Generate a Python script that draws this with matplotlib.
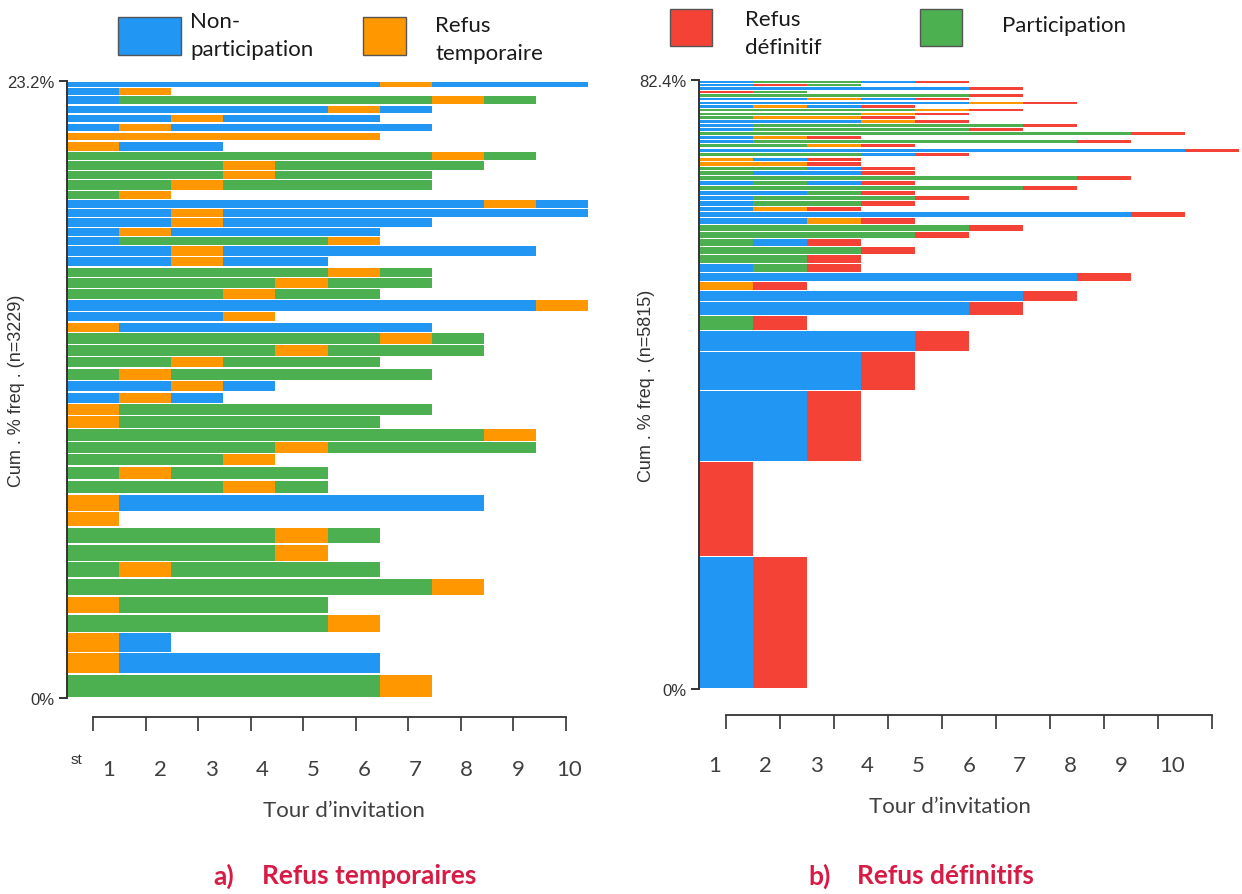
import itertools

import matplotlib

matplotlib.use("Agg")
import matplotlib.pyplot as plt
from matplotlib.patches import Rectangle
import numpy as np

W, H = 1242, 895

STATE_COLORS = {"N": "#2196F3", "T": "#FF9800", "D": "#F44336", "P": "#4CAF50"}
STATE_LABELS = {
    "N": "Non-\nparticipation",
    "T": "Refus\ntemporaire",
    "D": "Refus\ndéfinitif",
    "P": "Participation",
}

# N = non-participation, T = refus temporaire, D = refus définitif, P = participation
# sequences listed most frequent first (drawn from the bottom up)
temp_sequences = [
    "PPPPPPT", "TNNNNN", "TN", "PPPPPT", "TPPPP", "PPPPPPPT", "PTPPPP",
    "PPPPT", "PPPPTP", "T", "TNNNNNNN", "PPPTP", "PTPPP", "PPPT",
    "PPPPTPPPP", "PPPPPPPPT", "TPPPPP", "TPPPPPP", "NTN", "NNTN",
    "PTPPPPP", "PPTPPP", "PPPPTPPP", "PPPPPPTP", "TNNNNNN", "NNNT",
    "NNNNNNNNNT", "PPPTPP", "PPPPTPP", "PPPPPTP", "NNTNN", "NNTNNNNNN",
    "NPPPPT", "NTNNNN", "NNTNNNN", "NNTNNNNNNN", "NNNNNNNNTN", "PT",
    "PPTPPPP", "PPPTPPP", "PPPTPPPP", "PPPPPPPTP", "TNN", "TTTTTT",
    "NTNNNNN", "NNTNNN", "NNNNNTN", "NPPPPPPTP", "NT", "NNNNNNTNNN",
]
temp_counts = [
    29, 26, 25, 22, 22, 22, 20, 21, 21, 19, 21, 17, 17, 15, 15, 16, 15,
    15, 14, 14, 15, 14, 15, 14, 13, 13, 14, 14, 13, 13, 13, 13, 11, 11,
    12, 11, 11, 11, 13, 11, 12, 11, 13, 11, 11, 11, 11, 11, 10, 8,
]
TEMP_N = 3229

def_sequences = [
    "ND", "D", "NND", "NNND", "NNNND", "PD", "NNNNND", "NNNNNND", "TD",
    "NNNNNNND", "NPD", "PPD", "PPPD", "PND", "PPPPD", "PPPPPD", "NNTD",
    "NNNNNNNND", "NTD", "NPPD", "NPPPD", "NNPD", "PPPPPPD", "NPND",
    "PPPPPPPD", "PNND", "PPND", "TTD", "TND", "PPPND", "NNNNNNNNND",
    "PPTD", "NPPPPPPD", "NTD", "PPPPPPPPD", "NPPPPD", "NPPPPPD", "NNNTD",
    "PTTD", "PPPTD", "PPPPTD", "NTND", "NNNNNTD", "NNTND", "PPPPPD",
    "DP", "NNNNND", "NDP", "NPPND",
]
def_counts = [
    1045, 743, 560, 306, 169, 118, 110, 84, 73, 70, 70, 68, 66, 63, 57,
    56, 49, 48, 45, 44, 40, 40, 40, 39, 37, 37, 37, 36, 36, 36, 35, 34,
    33, 32, 32, 31, 31, 30, 30, 30, 29, 29, 29, 28, 28, 28, 27, 27, 27,
]
DEF_N = 5815

tours = list(range(1, 11))

NARROW = ["Liberation Sans Narrow", "Liberation Sans", "DejaVu Sans"]
BODY = ["Lato", "DejaVu Sans"]
AXIS_GREY = "#333333"
TEXT_GREY = "#404040"
CAPTION_RED = "#D81B45"


def fig_rect(x0, y0, x1, y1):
    """Pixel box (top-left origin) to a figure-fraction rect."""
    return [x0 / W, 1 - y1 / H, (x1 - x0) / W, (y1 - y0) / H]


def sequence_panel(ax, sequences, counts, n_total, gap, ylabel):
    pct = np.asarray(counts) / n_total * 100
    bottoms = np.concatenate([[0.0], np.cumsum(pct)[:-1]])
    for seq, base, height in zip(sequences, bottoms, pct):
        pos = 0
        for state, run in itertools.groupby(seq):
            width = len(list(run))
            ax.barh(base + gap / 2, width, height=height - gap, left=pos,
                    align="edge", color=STATE_COLORS[state], linewidth=0)
            pos += width
    top = pct.sum()
    ax.set_xlim(0, len(tours))
    ax.set_ylim(0, top)
    for side in ("top", "right", "bottom"):
        ax.spines[side].set_visible(False)
    ax.spines["left"].set_color(AXIS_GREY)
    ax.spines["left"].set_linewidth(1.4)
    ax.set_xticks([])
    ax.set_yticks([0, top])
    ax.set_yticklabels(["0%", f"{top:.1f}%"], family=NARROW, fontsize=12,
                       color=AXIS_GREY)
    ax.tick_params(axis="y", length=6, width=1.4, color=AXIS_GREY, pad=3)
    ax.set_ylabel(ylabel, family=["Liberation Sans", "DejaVu Sans"],
                  fontsize=13, color=AXIS_GREY)
    ax.yaxis.set_label_coords(-0.081, 0.5)


def tour_axis(fig, tick_x0, tick_x1, line_y, lab_x0, lab_x1, lab_y):
    line_ax = fig.add_axes(fig_rect(tick_x0, line_y - 1, tick_x1, line_y))
    line_ax.set_xlim(tours[0], tours[-1])
    for side in ("top", "right", "left"):
        line_ax.spines[side].set_visible(False)
    line_ax.spines["bottom"].set_color(AXIS_GREY)
    line_ax.spines["bottom"].set_linewidth(1.3)
    line_ax.set_yticks([])
    line_ax.set_xticks(tours)
    line_ax.set_xticklabels([])
    line_ax.tick_params(axis="x", direction="out", length=10, width=1.2,
                        color=AXIS_GREY)
    line_ax.patch.set_visible(False)

    lab_ax = fig.add_axes(fig_rect(lab_x0, lab_y - 1, lab_x1, lab_y))
    lab_ax.set_xlim(tours[0], tours[-1])
    lab_ax.axis("off")
    for t in tours:
        lab_ax.text(t, 0, str(t), transform=lab_ax.get_xaxis_transform(),
                    ha="center", va="top", family=BODY, fontsize=16,
                    color=TEXT_GREY)


def legend_entry(fig, state, box, text_x, text_y):
    x0, y0, x1, y1 = box
    r = fig_rect(x0, y0, x1, y1)
    fig.add_artist(Rectangle((r[0], r[1]), r[2], r[3], transform=fig.transFigure,
                             facecolor=STATE_COLORS[state], edgecolor="#555555",
                             linewidth=1.0))
    fig.text(text_x / W, 1 - text_y / H, STATE_LABELS[state], ha="left",
             va="center", family=BODY, fontsize=16, color="#1a1a1a",
             linespacing=1.45)


fig = plt.figure(figsize=(W / 100, H / 100), dpi=100)

ax_a = fig.add_axes(fig_rect(67, 82, 588, 699))
sequence_panel(ax_a, temp_sequences, temp_counts, TEMP_N, 0.05,
               f"Cum . % freq . (n={TEMP_N})")

ax_b = fig.add_axes(fig_rect(698.7, 81, 1238.7, 690))
sequence_panel(ax_b, def_sequences, def_counts, DEF_N, 0.15,
               f"Cum . % freq . (n={DEF_N})")

tour_axis(fig, 93.4, 565.6, 718, 109, 569, 760)
tour_axis(fig, 726, 1212, 716, 715, 1172, 756)

fig.text(76 / W, 1 - 760 / H, "st", ha="center", va="center", family=NARROW,
         fontsize=11, color=AXIS_GREY)

fig.text(344 / W, 1 - 811 / H, "Tour d’invitation", ha="center", va="center",
         family=BODY, fontsize=16, color=TEXT_GREY)
fig.text(950 / W, 1 - 807 / H, "Tour d’invitation", ha="center", va="center",
         family=BODY, fontsize=16, color=TEXT_GREY)

fig.text(213 / W, 1 - 876 / H, "a)", ha="left", va="center", family=BODY,
         fontsize=19, fontweight="bold", color=CAPTION_RED)
fig.text(262 / W, 1 - 876 / H, "Refus temporaires", ha="left", va="center",
         family=BODY, fontsize=19, fontweight="bold", color=CAPTION_RED)
fig.text(808 / W, 1 - 876 / H, "b)", ha="left", va="center", family=BODY,
         fontsize=19, fontweight="bold", color=CAPTION_RED)
fig.text(857 / W, 1 - 876 / H, "Refus définitifs", ha="left", va="center",
         family=BODY, fontsize=19, fontweight="bold", color=CAPTION_RED)

legend_entry(fig, "N", (118, 18, 181, 56), 190, 36)
legend_entry(fig, "T", (363, 18, 406, 56), 435, 40)
legend_entry(fig, "D", (670, 10, 712, 47), 745, 34)
legend_entry(fig, "P", (920, 10, 962, 47), 1002, 26)

fig.savefig("out.png", dpi=100)
